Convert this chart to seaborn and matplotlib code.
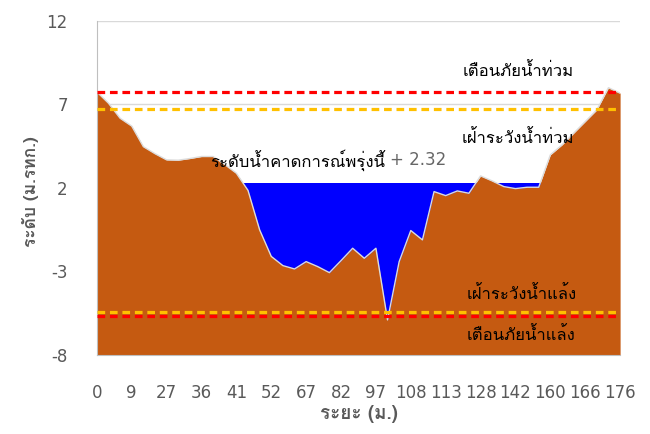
import matplotlib
matplotlib.use('Agg')
import matplotlib.pyplot as plt
from matplotlib import font_manager
from matplotlib.ft2font import FT2Font
import numpy as np
import pandas as pd
import seaborn as sns

# ระดับท้องน้ำ/ตลิ่ง ตามจุดสำรวจ (ม.รทก.)
ground = [7.75, 7.07, 6.17, 5.70, 4.47, 4.05, 3.68, 3.66, 3.76, 3.88,
          3.88, 3.40, 2.88, 1.85, -0.51, -2.10, -2.65, -2.85, -2.41, -2.71,
          -3.07, -2.35, -1.61, -2.21, -1.61, -5.90, -2.41, -0.55, -1.11, 1.78,
          1.54, 1.82, 1.68, 2.72, 2.42, 2.08, 1.96, 2.04, 2.04, 3.98,
          4.57, 5.27, 5.97, 6.67, 8.00, 7.67]
# ป้ายระยะ แสดงทุก 3 จุด
dist_labels = ['0', '9', '27', '36', '41', '52', '67', '82', '97', '108',
               '113', '128', '142', '160', '166', '176']
label_step = 3

water_level = 2.32
flood_warn = 7.73
flood_watch = 6.73
drought_watch = -5.45
drought_warn = -5.65
y_ticks = [-8, -3, 2, 7, 12]


def find_thai_font():
    # หาฟอนต์ที่มีอักษรไทย
    for f in font_manager.fontManager.ttflist:
        try:
            if 0x0E19 in FT2Font(f.fname).get_charmap():
                return f.name
        except Exception:
            pass
    return None


sns.set_style('white')
thai = find_thai_font()
fams = [thai, 'DejaVu Sans'] if thai else ['DejaVu Sans']
plt.rcParams['font.family'] = fams
plt.rcParams['axes.unicode_minus'] = False

df = pd.DataFrame({'idx': np.arange(len(ground)), 'ground': ground})
df['water'] = water_level
df['flood_warn'] = flood_warn
df['flood_watch'] = flood_watch
df['drought_watch'] = drought_watch
df['drought_warn'] = drought_warn

fig = plt.figure(figsize=(6.5, 4.34), dpi=100)
ax = fig.add_axes([0.149, 0.182, 0.805, 0.770])

ymin, ymax = y_ticks[0], y_ticks[-1]
ax.fill_between(df['idx'], ymin, df['water'], color='#0000ff', lw=0, zorder=1)
ax.fill_between(df['idx'], ymin, df['ground'], color='#c55a11', lw=0, zorder=2)
sns.lineplot(data=df, x='idx', y='ground', color='#dcdcdc', lw=1, ax=ax, zorder=3)

for col, c in [('flood_warn', '#ff0000'), ('flood_watch', '#ffc000'),
               ('drought_warn', '#ff0000'), ('drought_watch', '#ffc000')]:
    sns.lineplot(data=df, x='idx', y=col, color=c, lw=2.3, ax=ax, zorder=4)
for ln in ax.lines[1:]:
    ln.set_dashes((2.4, 1.5))

ax.set_xlim(0, len(ground) - 1)
ax.set_ylim(ymin, ymax)
ax.set_yticks(y_ticks)
ax.set_xticks(np.arange(len(ground)), minor=True)
ax.set_xticks(np.arange(0, len(ground), label_step))
ax.set_xticklabels(dist_labels)
ax.yaxis.grid(True, color='#d9d9d9', lw=1)
ax.set_axisbelow(True)

for s in ['top', 'right']:
    ax.spines[s].set_visible(False)
for s in ['left', 'bottom']:
    ax.spines[s].set_color('#bfbfbf')
ax.tick_params(axis='y', which='major', direction='out', length=7, color='#bfbfbf',
               labelcolor='#595959', labelsize=12, pad=14)
ax.tick_params(axis='x', which='both', direction='out', length=6, color='#bfbfbf',
               labelcolor='#595959', labelsize=12, pad=15)
for lab in ax.get_xticklabels() + ax.get_yticklabels():
    lab.set_fontfamily('DejaVu Sans')

ax.set_xlabel('ระยะ (ม.)', fontsize=13.5, color='#595959', fontweight='bold')
ax.xaxis.set_label_coords(0.5, -0.15)
ax.set_ylabel('ระดับ (ม.รทก.)', fontsize=12.5, color='#595959', fontweight='bold',
              va='center')
ax.yaxis.set_label_coords(-0.126, 0.488)

tkw = dict(ha='center', va='center', fontsize=12, color='black')
ax.text(36.2, 8.95, 'เตือนภัยน้ำท่วม', **tkw)
ax.text(36.2, 4.93, 'เฝ้าระวังน้ำท่วม', **tkw)
ax.text(36.5, -4.35, 'เฝ้าระวังน้ำแล้ง', **tkw)
ax.text(36.5, -6.86, 'เตือนภัยน้ำแล้ง', **tkw)
ax.text(24.8, 3.68, 'ระดับน้ำคาดการณ์พรุ่งนี้', ha='right', va='center',
        fontsize=12, color='black', zorder=6)
ax.text(25.2, 3.68, '+ %.2f' % water_level, ha='left', va='center',
        fontsize=12, color='#666666', fontfamily='DejaVu Sans', zorder=6)

fig.savefig('out.png', dpi=100)
